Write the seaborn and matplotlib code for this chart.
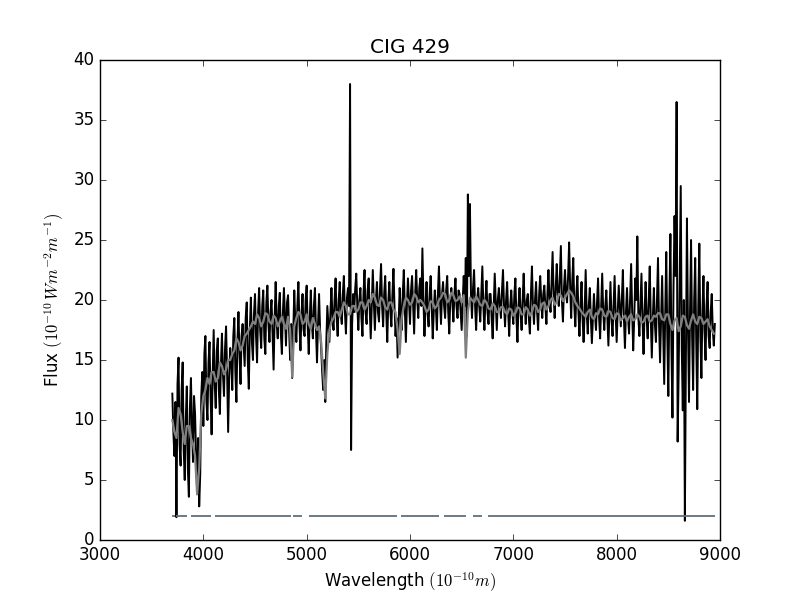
import numpy as np
import pandas as pd
import seaborn as sns
import matplotlib
matplotlib.use("Agg")
import matplotlib.pyplot as plt

# observed spectrum, sampled every 10 A from 3700 A (one row = 200 A)
flux_start = 3700
flux_step = 10
flux = [
    12.2, 9.0, 7.0, 11.5, 1.9, 13.0, 15.2, 8.0, 6.2, 12.5, 14.8, 7.5, 5.0, 10.0, 12.8, 6.0, 3.6, 11.0, 13.5, 9.5,          # 3700
    6.5, 12.0, 10.5, 7.0, 4.0, 8.5, 2.8, 5.5, 12.0, 14.0, 9.5, 15.5, 17.0, 11.5, 10.0, 14.8, 16.5, 12.0, 8.8, 13.5,        # 3900
    17.5, 13.0, 11.0, 15.8, 16.8, 12.5, 10.5, 14.5, 17.2, 13.8, 12.0, 16.0, 17.8, 14.0, 9.0, 13.5, 16.0, 15.0, 12.5, 17.0, # 4100
    18.5, 14.0, 11.5, 16.5, 19.0, 15.5, 13.0, 17.0, 18.0, 16.2, 14.5, 18.5, 19.8, 15.0, 12.6, 17.5, 20.2, 16.5, 15.0, 18.8, # 4300
    20.5, 17.0, 14.8, 19.0, 21.0, 17.5, 16.0, 19.5, 20.8, 16.8, 15.5, 19.8, 21.2, 18.0, 16.5, 19.0, 20.0, 17.0, 14.2, 18.5, # 4500
    21.5, 18.0, 16.8, 19.5, 20.6, 17.2, 15.5, 19.0, 21.0, 18.5, 16.2, 19.8, 20.4, 17.5, 15.0, 18.0, 13.5, 17.0, 20.8, 18.2, # 4700
    16.5, 19.5, 21.5, 18.0, 15.8, 18.8, 20.5, 17.5, 17.0, 20.0, 21.2, 17.8, 15.5, 18.5, 20.8, 18.0, 16.8, 19.5, 21.0, 17.5, # 4900
    14.8, 18.0, 20.5, 17.5, 16.0, 14.0, 12.5, 15.0, 11.5, 16.5, 19.5, 18.0, 16.5, 19.0, 21.0, 18.5, 17.5, 20.0, 21.8, 18.5, # 5100
    17.0, 20.0, 21.5, 18.8, 18.0, 20.5, 22.0, 19.0, 17.2, 20.2, 21.0, 19.5, 38.0, 7.5, 18.0, 20.5, 19.0, 21.0, 22.2, 19.5,  # 5300
    17.5, 20.0, 21.0, 18.5, 17.0, 20.5, 22.5, 19.0, 18.0, 20.8, 21.8, 19.2, 16.8, 19.5, 22.5, 19.8, 17.5, 20.0, 21.5, 19.0, # 5500
    18.2, 21.0, 23.0, 19.5, 17.8, 20.5, 22.0, 19.0, 16.5, 19.8, 21.5, 19.0, 17.8, 20.5, 22.6, 19.5, 17.0, 18.5, 15.2, 18.0, # 5700
    21.0, 19.0, 17.5, 20.5, 22.5, 19.2, 16.5, 19.5, 21.8, 19.8, 18.0, 20.8, 22.0, 19.5, 17.2, 20.5, 22.5, 20.0, 18.5, 21.0, # 5900
    21.8, 19.5, 24.3, 20.0, 17.0, 19.5, 21.5, 19.0, 17.8, 20.5, 22.0, 19.5, 16.8, 19.0, 20.8, 19.5, 17.5, 20.5, 22.8, 20.0, # 6100
    18.0, 20.5, 21.5, 19.5, 18.5, 20.8, 22.0, 19.0, 17.2, 20.0, 21.0, 19.8, 18.2, 20.5, 21.8, 19.5, 18.5, 20.8, 20.5, 19.0, # 6300
    17.5, 20.0, 22.0, 19.5, 23.5, 17.0, 28.8, 22.0, 28.0, 20.5, 18.5, 21.0, 22.5, 19.5, 17.5, 20.0, 21.0, 19.5, 18.2, 20.5, # 6500
    22.8, 19.5, 17.5, 20.0, 21.6, 19.0, 18.0, 20.5, 20.5, 18.5, 16.8, 19.5, 22.2, 19.8, 17.5, 20.0, 21.0, 19.5, 18.5, 20.8, # 6700
    22.5, 19.5, 17.8, 20.0, 21.5, 19.0, 17.0, 19.5, 20.8, 19.0, 18.0, 20.5, 21.8, 18.5, 16.5, 19.5, 21.0, 19.0, 17.5, 20.0, # 6900
    22.2, 19.5, 18.0, 20.0, 20.5, 18.5, 17.2, 20.5, 22.8, 19.5, 18.0, 20.0, 21.5, 19.0, 17.5, 20.5, 22.0, 20.0, 18.5, 20.5, # 7100
    21.2, 19.5, 18.0, 20.5, 22.5, 20.0, 19.0, 21.5, 24.0, 20.5, 18.5, 21.0, 23.0, 20.5, 19.5, 22.0, 24.5, 20.0, 18.2, 21.0, # 7300
    22.5, 20.5, 19.8, 22.0, 24.8, 21.0, 18.5, 21.5, 23.5, 19.5, 17.8, 20.5, 22.0, 19.0, 17.0, 19.5, 21.5, 18.5, 16.5, 19.0, # 7500
    22.5, 19.0, 17.2, 19.5, 21.0, 18.5, 16.4, 18.5, 20.5, 18.8, 17.5, 19.8, 21.8, 18.5, 16.8, 19.5, 22.2, 19.0, 17.5, 19.5, # 7700
    20.8, 18.5, 16.2, 19.0, 21.5, 18.5, 17.0, 19.5, 22.0, 18.8, 16.5, 19.0, 21.2, 19.5, 17.8, 20.0, 22.5, 18.5, 16.0, 19.0, # 7900
    21.0, 18.5, 17.2, 20.0, 23.0, 19.0, 15.8, 18.5, 21.8, 20.0, 25.3, 18.5, 17.0, 19.5, 22.2, 18.5, 15.5, 19.0, 21.5, 18.5, # 8100
    16.8, 20.0, 22.8, 18.5, 15.2, 18.5, 21.0, 18.0, 16.5, 20.0, 23.5, 18.0, 14.8, 18.5, 22.0, 17.5, 13.0, 19.0, 24.0, 17.0, # 8300
    12.0, 20.0, 25.5, 16.0, 10.2, 21.0, 27.0, 22.0, 36.5, 8.2, 14.0, 22.0, 29.5, 16.0, 10.8, 20.0, 1.6, 15.0, 26.8, 18.0,  # 8500
    11.5, 19.0, 25.0, 17.0, 12.5, 20.0, 23.5, 16.5, 10.9, 19.5, 24.7, 17.0, 13.5, 19.0, 22.0, 17.5, 15.0, 19.5, 21.5, 17.0, # 8700
    16.0, 19.0, 20.5, 17.5, 16.2, 18.0,                                                                                    # 8900
]

# smoothed spectrum, sampled every 20 A from 3700 A (one row = 200 A)
smooth_start = 3700
smooth_step = 20
smooth = [
    10.0, 9.0, 8.5, 11.0, 10.5, 9.0, 8.0, 9.5, 9.5, 8.5,        # 3700
    8.0, 7.0, 3.8, 6.0, 10.5, 12.0, 12.5, 13.5, 13.0, 14.0,     # 3900
    14.0, 13.2, 13.5, 14.8, 14.5, 13.8, 14.2, 15.0, 15.0, 15.5, # 4100
    15.8, 16.8, 16.5, 15.8, 16.2, 17.0, 17.2, 17.5, 17.8, 18.2, # 4300
    18.0, 18.8, 18.5, 17.8, 18.2, 18.9, 18.8, 18.2, 18.0, 18.7, # 4500
    18.5, 17.8, 18.2, 18.6, 18.0, 17.6, 18.6, 17.5, 13.6, 17.8, # 4700
    18.5, 19.0, 18.8, 18.0, 18.2, 18.8, 18.0, 17.6, 18.5, 18.0, # 4900
    17.5, 17.8, 16.5, 14.0, 11.8, 15.5, 17.5, 18.2, 18.5, 19.0, # 5100
    19.0, 18.6, 19.2, 19.8, 19.5, 18.8, 18.8, 19.5, 19.5, 19.0, # 5300
    19.2, 19.8, 19.8, 19.2, 19.5, 20.0, 19.8, 20.5, 20.2, 19.6, # 5500
    19.5, 20.2, 20.0, 19.4, 19.2, 19.8, 19.8, 19.2, 19.0, 17.5, # 5700
    15.5, 18.5, 19.5, 20.2, 20.0, 19.6, 19.8, 20.5, 20.3, 19.8, # 5900
    20.0, 19.8, 19.5, 19.0, 19.2, 19.9, 19.8, 19.3, 19.5, 20.0, # 6100
    20.2, 20.6, 20.5, 19.8, 20.0, 20.6, 20.4, 19.9, 20.0, 20.3, # 6300
    19.8, 20.4, 15.2, 19.0, 20.2, 20.0, 19.8, 20.3, 20.0, 19.6, # 6500
    19.5, 20.0, 19.8, 19.3, 19.2, 19.7, 19.5, 19.0, 19.0, 19.4, # 6700
    19.4, 19.0, 18.8, 19.3, 19.2, 18.7, 18.9, 19.4, 19.3, 18.8, # 6900
    18.8, 19.4, 19.2, 18.7, 19.0, 19.6, 19.5, 19.0, 19.2, 19.7, # 7100
    19.8, 19.2, 19.5, 20.0, 20.2, 19.6, 19.8, 20.5, 20.4, 19.9, # 7300
    20.2, 20.5, 20.8, 20.6, 20.3, 19.8, 19.5, 19.3, 19.0, 18.8, # 7500
    18.6, 19.0, 19.2, 18.6, 18.4, 18.9, 18.8, 19.3, 19.2, 18.7, # 7700
    18.6, 19.1, 19.0, 18.5, 18.4, 18.9, 18.8, 18.3, 18.5, 18.7, # 7900
    18.2, 18.6, 18.8, 18.3, 18.4, 18.8, 18.6, 18.1, 18.2, 18.6, # 8100
    18.7, 18.2, 18.3, 18.7, 18.6, 18.9, 18.9, 18.4, 18.3, 18.8, # 8300
    18.8, 18.0, 17.5, 18.3, 18.5, 17.4, 17.8, 18.7, 18.6, 17.9, # 8500
    17.6, 18.3, 18.8, 18.2, 18.0, 18.6, 18.5, 18.0, 18.2, 18.4, # 8700
    17.8, 17.5, 17.2,                                           # 8900
]

# masked line near the bottom
mask_level = 2.0
mask_start = [3697, 3738, 3881, 4110, 4868, 5021, 5913, 6329, 6610, 6755]
mask_end = [3722, 3846, 4074, 4852, 4951, 5874, 6281, 6542, 6697, 8952]

df_flux = pd.DataFrame({
    "wave": flux_start + flux_step * np.arange(len(flux)),
    "flux": flux,
})
df_smooth = pd.DataFrame({
    "wave": smooth_start + smooth_step * np.arange(len(smooth)),
    "flux": smooth,
})

plt.style.use("classic")
fig, ax = plt.subplots(figsize=(8, 6), dpi=100, facecolor="white")

sns.lineplot(data=df_flux, x="wave", y="flux", color="black", lw=1.4,
             sort=False, estimator=None, ax=ax)
sns.lineplot(data=df_smooth, x="wave", y="flux", color="#808080", lw=1.6,
             sort=False, estimator=None, ax=ax)
ax.hlines([mask_level] * len(mask_start), mask_start, mask_end,
          color="#5f6f7a", lw=1.3)

ax.set_xlim(3000, 9000)
ax.set_ylim(0, 40)
ax.set_title("CIG 429")
ax.set_xlabel(r"Wavelength $(10^{-10}m)$")
ax.set_ylabel(r"Flux $(10^{-10}\,Wm^{-2}m^{-1})$")

fig.savefig("out.png", dpi=100, facecolor="white")
